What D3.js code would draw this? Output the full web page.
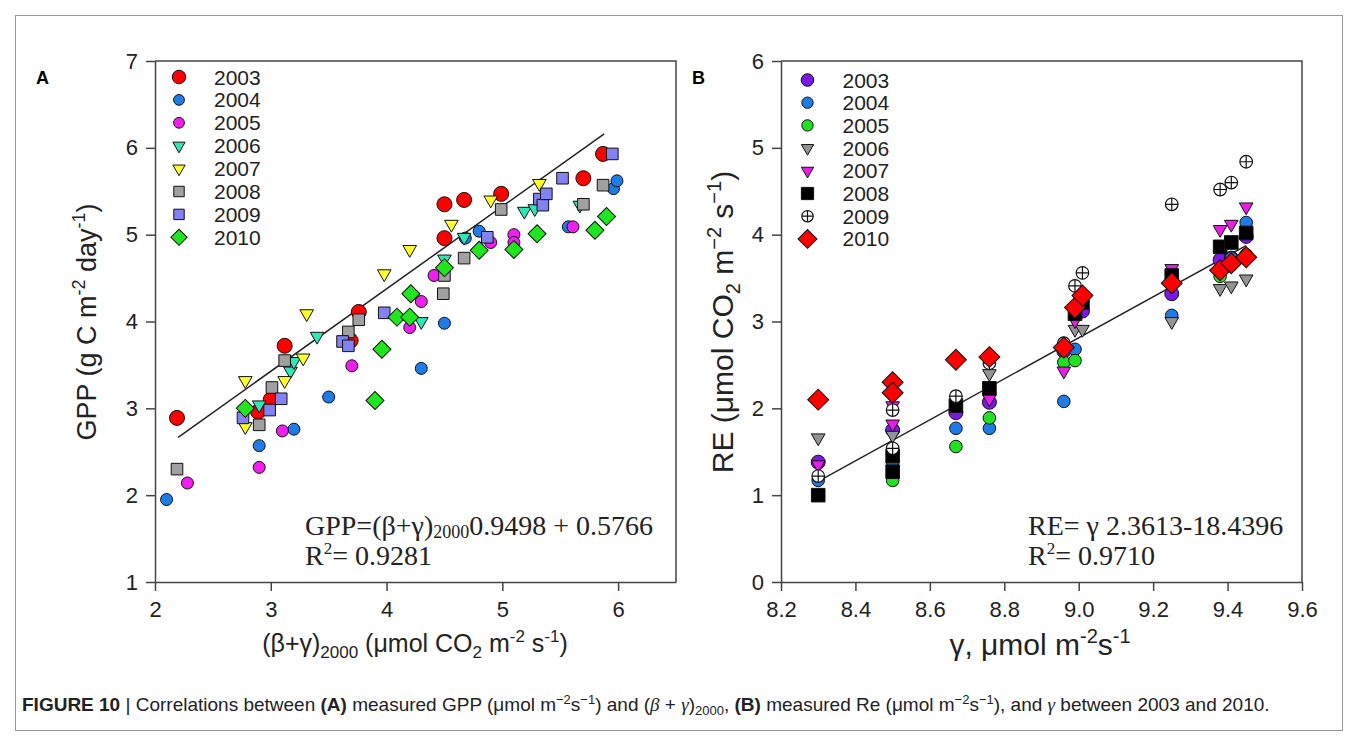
<!DOCTYPE html>
<html>
<head>
<meta charset="utf-8">
<script src="https://cdn.jsdelivr.net/npm/d3@7"></script>
<style>
  body { margin: 0; background: #fff; }
  svg { display: block; }
</style>
</head>
<body>
<script>
// ---- data ----
var years = ["2003", "2004", "2005", "2006", "2007", "2008", "2009", "2010"]

// panel A: (beta+gamma)2000 vs GPP
var gpp2003 = [[2.19,2.89],[2.89,2.96],[3.0,3.10],[3.12,3.72],[3.76,4.11],[4.50,5.35],[4.67,5.40],[4.99,5.47],[4.50,4.96],[5.70,5.65],[5.87,5.93],[3.69,3.78]]
var gpp2004 = [[2.10,1.95],[2.90,2.57],[3.20,2.76],[3.50,3.13],[4.30,3.46],[4.50,3.98],[4.68,4.96],[4.80,5.04],[5.57,5.09],[5.96,5.53],[5.99,5.62]]
var gpp2005 = [[2.28,2.14],[2.90,2.32],[3.10,2.74],[3.70,3.49],[4.20,3.93],[4.30,4.23],[4.41,4.53],[4.90,4.91],[5.10,5.00],[5.10,4.91],[5.61,5.09]]
var gpp2006 = [[2.90,3.04],[3.17,3.43],[3.20,3.54],[3.40,3.83],[4.30,4.00],[4.50,4.72],[4.67,4.97],[5.19,5.27],[5.28,5.30],[5.67,5.34]]
var gpp2007 = [[2.78,3.32],[2.78,2.79],[3.12,3.32],[3.28,3.58],[3.31,4.09],[3.98,4.55],[4.20,4.83],[4.56,5.12],[4.90,5.40],[5.32,5.59]]
var gpp2008 = [[2.19,2.30],[2.90,2.81],[3.01,3.24],[3.12,3.55],[3.67,3.88],[3.76,4.02],[4.50,4.53],[4.49,4.32],[4.67,4.73],[4.99,5.29],[5.70,5.35],[5.87,5.57]]
var gpp2009 = [[2.76,2.89],[2.99,2.98],[3.09,3.11],[3.62,3.77],[3.67,3.72],[3.98,4.10],[4.87,4.97],[5.32,5.41],[5.35,5.34],[5.38,5.47],[5.52,5.65],[5.95,5.93]]
var gpp2010 = [[2.78,3.00],[3.90,3.09],[3.96,3.68],[4.09,4.05],[4.20,4.05],[4.21,4.32],[4.50,4.62],[4.80,4.82],[5.10,4.83],[5.30,5.01],[5.80,5.05],[5.90,5.21]]

// panel B: gamma vs RE
var re2003 = [[8.30,1.38],[8.50,1.75],[8.67,1.95],[8.76,2.07],[8.96,2.66],[9.01,3.12],[9.25,3.32],[9.38,3.71],[9.41,3.73],[9.45,3.98]]
var re2004 = [[8.30,1.17],[8.50,1.37],[8.67,1.77],[8.76,1.77],[8.96,2.08],[8.99,2.68],[9.25,3.07],[9.41,3.73],[9.45,4.14]]
var re2005 = [[8.50,1.17],[8.67,1.56],[8.76,1.89],[8.96,2.53],[8.99,2.55],[9.38,3.52],[9.41,3.65],[9.45,3.77]]
var re2006 = [[8.30,1.66],[8.50,1.69],[8.76,2.40],[8.99,2.91],[9.01,2.91],[9.25,3.00],[9.38,3.38],[9.41,3.41],[9.45,3.49]]
var re2007 = [[8.30,1.35],[8.50,1.82],[8.50,2.03],[8.76,2.11],[8.96,2.43],[8.99,3.01],[9.25,3.61],[9.38,4.06],[9.41,4.12],[9.45,4.32]]
var re2008 = [[8.30,1.00],[8.50,1.27],[8.50,1.45],[8.67,2.03],[8.76,2.23],[8.99,3.09],[9.01,3.22],[9.25,3.53],[9.38,3.86],[9.41,3.91],[9.45,4.02]]
var re2009 = [[8.30,1.22],[8.50,1.54],[8.50,1.98],[8.67,2.14],[8.76,2.52],[8.96,2.75],[8.99,3.41],[9.01,3.56],[9.25,4.35],[9.38,4.52],[9.41,4.60],[9.45,4.84]]
var re2010 = [[8.30,2.10],[8.50,2.30],[8.50,2.18],[8.67,2.56],[8.76,2.59],[8.96,2.70],[8.99,3.16],[9.01,3.30],[9.25,3.44],[9.38,3.59],[9.41,3.67],[9.45,3.74]]

var gppTicksX = [2, 3, 4, 5, 6]
var gppTicksY = [1, 2, 3, 4, 5, 6, 7]
var reTicksX = [8.2, 8.4, 8.6, 8.8, 9.0, 9.2, 9.4, 9.6]
var reTicksY = [0, 1, 2, 3, 4, 5, 6]

// fitted lines: slope, intercept, x range
var gppFit = { slope: 0.9498, intercept: 0.5766, from: 2.2, to: 5.88 }
var reFit = { slope: 2.3613, intercept: -18.4396, from: 8.30, to: 9.45 }

// ---- styles ----
var gppShapes = ["circle", "circle", "circle", "tri", "tri", "square", "square", "diamond"]
var gppColors = ["#ff0000", "#1f7ce6", "#f01ef0", "#2fe6b4", "#ffff2a", "#a0a0a0", "#8282f2", "#1fe61f"]
var gppSizes = [7.5, 6, 6, 6.5, 6.5, 5.8, 5.8, 6]

var reShapes = ["circle", "circle", "circle", "tri", "tri", "square", "cross", "diamond"]
var reColors = ["#7a18e6", "#1f7ce6", "#22e022", "#939393", "#e81ee8", "#000000", "#ffffff", "#ff0000"]
var reSizes = [7, 6.3, 6.3, 6.5, 6.5, 6.8, 6.3, 7]

var W = 1358, H = 744
var sans = "'Liberation Sans', Arial, sans-serif"
var serif = "'Liberation Serif', 'Times New Roman', serif"

var svg = d3.select("body").append("svg")
    .attr("width", W)
    .attr("height", H)

// outer frame
svg.append("rect")
   .attr("x", 15.5).attr("y", 15.5)
   .attr("width", 1327).attr("height", 715)
   .attr("fill", "none")
   .attr("stroke", "#999")
   .attr("stroke-width", 1)

function drawMarker(g, shape, s, fill) {
  if (shape == "circle") {
    g.append("circle").attr("r", s).attr("fill", fill).attr("stroke", "#111").attr("stroke-width", 1)
  } else if (shape == "tri") {
    var side = s * 2.1
    g.append("path")
     .attr("d", d3.symbol(d3.symbolTriangle, side * side * Math.sqrt(3) / 4)())
     .attr("transform", "rotate(180)")
     .attr("fill", fill).attr("stroke", "#111").attr("stroke-width", 1)
  } else if (shape == "square") {
    g.append("path")
     .attr("d", d3.symbol(d3.symbolSquare, (2 * s) * (2 * s))())
     .attr("fill", fill).attr("stroke", "#111").attr("stroke-width", 1)
  } else if (shape == "diamond") {
    var d = s * 2 * 0.75
    g.append("path")
     .attr("d", d3.symbol(d3.symbolSquare, 2 * d * d)())
     .attr("transform", "rotate(45)")
     .attr("fill", fill).attr("stroke", "#111").attr("stroke-width", 1)
  } else if (shape == "cross") {
    g.append("circle").attr("r", s).attr("fill", fill).attr("stroke", "#111").attr("stroke-width", 1.2)
    g.append("path")
     .attr("d", "M" + (-s) + ",0H" + s + "M0," + (-s) + "V" + s)
     .attr("stroke", "#111").attr("stroke-width", 1.2)
  }
}

function panel(opt) {
  var x = d3.scaleLinear().domain(opt.xDomain).range([opt.left, opt.right])
  var y = d3.scaleLinear().domain(opt.yDomain).range([opt.bottom, opt.top])

  var g = svg.append("g")

  // box
  g.append("path")
   .attr("d", "M" + opt.left + "," + opt.top + "H" + opt.right + "V" + opt.bottom)
   .attr("fill", "none").attr("stroke", "#444").attr("stroke-width", 1.5)

  var xAxis = g.append("g")
     .attr("transform", "translate(0," + opt.bottom + ")")
     .call(d3.axisBottom(x).tickValues(opt.xTicks).tickFormat(opt.xFormat).tickSize(9).tickSizeOuter(0).tickPadding(10))
  var yAxis = g.append("g")
     .attr("transform", "translate(" + opt.left + ",0)")
     .call(d3.axisLeft(y).tickValues(opt.yTicks).tickFormat(d3.format("d")).tickSize(9).tickSizeOuter(0).tickPadding(8))

  ;[xAxis, yAxis].forEach(function(a) {
    a.selectAll("path, line").attr("stroke", "#444").attr("stroke-width", 1.5)
    a.selectAll("text").attr("font-family", sans).attr("font-size", "22px").attr("fill", "#222")
  })

  // regression line
  g.append("line")
   .attr("x1", x(opt.fit.from)).attr("y1", y(opt.fit.slope * opt.fit.from + opt.fit.intercept))
   .attr("x2", x(opt.fit.to)).attr("y2", y(opt.fit.slope * opt.fit.to + opt.fit.intercept))
   .attr("stroke", "#222").attr("stroke-width", 1.5)

  // points
  opt.series.forEach(function(data, i) {
    data.forEach(function(d) {
      var m = g.append("g").attr("transform", "translate(" + x(d[0]) + "," + y(d[1]) + ")")
      drawMarker(m, opt.shapes[i], opt.sizes[i], opt.colors[i])
    })
  })

  // legend
  years.forEach(function(yr, i) {
    var ly = opt.legendY + i * opt.legendStep
    var m = g.append("g").attr("transform", "translate(" + opt.legendX + "," + ly + ")")
    drawMarker(m, opt.shapes[i], opt.sizes[i] * 0.9, opt.colors[i])
    g.append("text")
     .attr("x", opt.legendX + 35).attr("y", ly)
     .attr("dy", "0.36em")
     .attr("font-family", sans).attr("font-size", "21px").attr("fill", "#222")
     .text(yr)
  })

  // panel letter
  svg.append("text")
     .attr("x", opt.letterX).attr("y", 84)
     .attr("font-family", sans).attr("font-weight", "bold").attr("font-size", "18px")
     .text(opt.letter)

  return { g: g, x: x, y: y }
}

// ---- panel A ----
var A = panel({
  left: 155, right: 676, top: 61, bottom: 582,
  xDomain: [2, 6.5], yDomain: [1, 7],
  xTicks: gppTicksX, yTicks: gppTicksY, xFormat: d3.format("d"),
  fit: gppFit,
  series: [gpp2003, gpp2004, gpp2005, gpp2006, gpp2007, gpp2008, gpp2009, gpp2010],
  shapes: gppShapes, colors: gppColors, sizes: gppSizes,
  legendX: 179, legendY: 77, legendStep: 22.9,
  letter: "A", letterX: 36
})

// ---- panel B ----
var B = panel({
  left: 781, right: 1302, top: 61, bottom: 582,
  xDomain: [8.2, 9.6], yDomain: [0, 6],
  xTicks: reTicksX, yTicks: reTicksY, xFormat: d3.format(".1f"),
  fit: reFit,
  series: [re2003, re2004, re2005, re2006, re2007, re2008, re2009, re2010],
  shapes: reShapes, colors: reColors, sizes: reSizes,
  legendX: 807.5, legendY: 80, legendStep: 22.7,
  letter: "B", letterX: 692
})

// ---- equations ----
var eqA = svg.append("text").attr("x", 305).attr("y", 535)
   .attr("font-family", serif).attr("font-size", "28px").attr("fill", "#222")
eqA.append("tspan").text("GPP=(β+γ)")
eqA.append("tspan").attr("font-size", "18px").attr("dy", 3).text("2000")
eqA.append("tspan").attr("dy", -3).text("0.9498 + 0.5766")

var r2A = svg.append("text").attr("x", 305).attr("y", 565)
   .attr("font-family", serif).attr("font-size", "28px").attr("fill", "#222")
r2A.append("tspan").text("R")
r2A.append("tspan").attr("font-size", "17px").attr("dy", -11).text("2")
r2A.append("tspan").attr("dy", 11).text("= 0.9281")

svg.append("text").attr("x", 1028).attr("y", 535)
   .attr("font-family", serif).attr("font-size", "28px").attr("fill", "#222")
   .text("RE= γ 2.3613-18.4396")

var r2B = svg.append("text").attr("x", 1028).attr("y", 565)
   .attr("font-family", serif).attr("font-size", "28px").attr("fill", "#222")
r2B.append("tspan").text("R")
r2B.append("tspan").attr("font-size", "17px").attr("dy", -11).text("2")
r2B.append("tspan").attr("dy", 11).text("= 0.9710")

// ---- axis titles ----
var xtA = svg.append("text").attr("x", 415).attr("y", 652).attr("text-anchor", "middle")
   .attr("font-family", sans).attr("font-size", "25px").attr("fill", "#222")
xtA.append("tspan").text("(β+γ)")
xtA.append("tspan").attr("font-size", "17px").attr("dy", 6).text("2000")
xtA.append("tspan").attr("dy", -6).text(" (μmol CO")
xtA.append("tspan").attr("font-size", "17px").attr("dy", 6).text("2")
xtA.append("tspan").attr("dy", -6).text(" m")
xtA.append("tspan").attr("font-size", "17px").attr("dy", -10).text("-2")
xtA.append("tspan").attr("dy", 10).text(" s")
xtA.append("tspan").attr("font-size", "17px").attr("dy", -10).text("-1")
xtA.append("tspan").attr("dy", 10).text(")")

var xtB = svg.append("text").attr("x", 1040).attr("y", 655).attr("text-anchor", "middle")
   .attr("font-family", sans).attr("font-size", "30px").attr("fill", "#222")
xtB.append("tspan").text("γ, μmol m")
xtB.append("tspan").attr("font-size", "20px").attr("dy", -12).text("-2")
xtB.append("tspan").attr("dy", 12).text("s")
xtB.append("tspan").attr("font-size", "20px").attr("dy", -12).text("-1")

var ytA = svg.append("text")
   .attr("transform", "translate(96,322) rotate(-90)").attr("text-anchor", "middle")
   .attr("font-family", sans).attr("font-size", "27px").attr("fill", "#222")
ytA.append("tspan").text("GPP (g C m")
ytA.append("tspan").attr("font-size", "18px").attr("dy", -11).text("-2")
ytA.append("tspan").attr("dy", 11).text(" day")
ytA.append("tspan").attr("font-size", "18px").attr("dy", -11).text("-1")
ytA.append("tspan").attr("dy", 11).text(")")

var ytB = svg.append("text")
   .attr("transform", "translate(733,322) rotate(-90)").attr("text-anchor", "middle")
   .attr("font-family", sans).attr("font-size", "30px").attr("fill", "#222")
ytB.append("tspan").text("RE (μmol CO")
ytB.append("tspan").attr("font-size", "20px").attr("dy", 7).text("2")
ytB.append("tspan").attr("dy", -7).text(" m")
ytB.append("tspan").attr("font-size", "20px").attr("dy", -12).text("−2")
ytB.append("tspan").attr("dy", 12).text(" s")
ytB.append("tspan").attr("font-size", "20px").attr("dy", -12).text("−1")
ytB.append("tspan").attr("dy", 12).text(")")

// ---- caption ----
var cap = svg.append("text").attr("x", 22).attr("y", 711)
   .attr("font-family", "'Liberation Sans Narrow', 'Liberation Sans', sans-serif")
   .attr("font-size", "19px").attr("fill", "#222")
cap.append("tspan").attr("font-weight", "bold").text("FIGURE 10")
cap.append("tspan").text(" | ")
cap.append("tspan").text("Correlations between ")
cap.append("tspan").attr("font-weight", "bold").text("(A)")
cap.append("tspan").text(" measured GPP (μmol m")
cap.append("tspan").attr("font-size", "13px").attr("dy", -7).text("−2")
cap.append("tspan").attr("dy", 7).text("s")
cap.append("tspan").attr("font-size", "13px").attr("dy", -7).text("−1")
cap.append("tspan").attr("dy", 7).text(") and (")
cap.append("tspan").attr("font-style", "italic").attr("font-family", serif).text("β")
cap.append("tspan").text(" + ")
cap.append("tspan").attr("font-style", "italic").attr("font-family", serif).text("γ")
cap.append("tspan").text(")")
cap.append("tspan").attr("font-size", "13px").attr("dy", 4).text("2000")
cap.append("tspan").attr("dy", -4).text(", ")
cap.append("tspan").attr("font-weight", "bold").text("(B)")
cap.append("tspan").text(" measured Re (μmol m")
cap.append("tspan").attr("font-size", "13px").attr("dy", -7).text("−2")
cap.append("tspan").attr("dy", 7).text("s")
cap.append("tspan").attr("font-size", "13px").attr("dy", -7).text("−1")
cap.append("tspan").attr("dy", 7).text("), and ")
cap.append("tspan").attr("font-style", "italic").attr("font-family", serif).text("γ")
cap.append("tspan").text(" between 2003 and 2010.")
</script>
</body>
</html>
